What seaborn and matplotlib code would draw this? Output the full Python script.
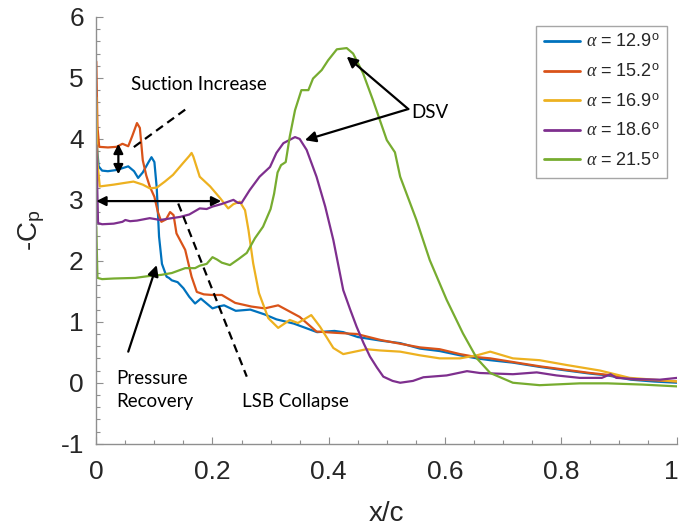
import numpy as np
import pandas as pd
import matplotlib
matplotlib.use("Agg")
import matplotlib.pyplot as plt
from matplotlib.ticker import MultipleLocator
from matplotlib.transforms import ScaledTranslation
import seaborn as sns

# Surface pressure distributions, -Cp along the chord, at five angles of attack
angles = ["12.9", "15.2", "16.9", "18.6", "21.5"]

x_129 = [0, 0.001, 0.004, 0.01, 0.02, 0.035, 0.045, 0.055, 0.065, 0.072, 0.08, 0.09, 0.095,
         0.1, 0.104, 0.108, 0.113, 0.121, 0.125, 0.13, 0.14, 0.15, 0.16, 0.17, 0.18, 0.19,
         0.2, 0.21, 0.22, 0.24, 0.265, 0.29, 0.31, 0.34, 0.38, 0.41, 0.425, 0.45, 0.49,
         0.523, 0.557, 0.591, 0.626, 0.655, 0.678, 0.717, 0.763, 0.81, 0.85, 0.88, 0.92,
         0.96, 1.0]
cp_129 = [4.55, 3.9, 3.55, 3.48, 3.47, 3.49, 3.52, 3.55, 3.47, 3.36, 3.45, 3.62, 3.70,
          3.62, 3.2, 2.4, 1.95, 1.74, 1.72, 1.68, 1.65, 1.55, 1.41, 1.30, 1.38, 1.30,
          1.22, 1.25, 1.27, 1.18, 1.20, 1.12, 1.04, 0.97, 0.83, 0.85, 0.83, 0.75, 0.69,
          0.65, 0.56, 0.52, 0.45, 0.40, 0.37, 0.33, 0.26, 0.20, 0.15, 0.12, 0.05,
          0.02, 0.0]

x_152 = [0, 0.002, 0.005, 0.02, 0.035, 0.045, 0.055, 0.062, 0.07, 0.075, 0.08, 0.086,
         0.092, 0.1, 0.106, 0.112, 0.12, 0.127, 0.133, 0.138, 0.153, 0.164, 0.173, 0.185,
         0.199, 0.216, 0.239, 0.267, 0.29, 0.313, 0.35, 0.379, 0.41, 0.448, 0.49, 0.523,
         0.557, 0.591, 0.626, 0.655, 0.678, 0.717, 0.763, 0.81, 0.85, 0.88, 0.92, 0.96, 1.0]
cp_152 = [5.27, 4.2, 3.87, 3.86, 3.87, 3.92, 3.88, 4.05, 4.26, 4.18, 3.65, 3.40,
          3.22, 3.05, 2.80, 2.64, 2.68, 2.80, 2.75, 2.45, 2.18, 1.74, 1.49, 1.45,
          1.44, 1.44, 1.31, 1.25, 1.22, 1.27, 1.08, 0.84, 0.82, 0.80, 0.70, 0.64,
          0.58, 0.55, 0.47, 0.42, 0.40, 0.34, 0.27, 0.21, 0.16, 0.13, 0.06, 0.04, 0.02]

x_169 = [0, 0.002, 0.006, 0.03, 0.05, 0.064, 0.08, 0.092, 0.104, 0.118, 0.132, 0.149,
         0.16, 0.164, 0.167, 0.178, 0.196, 0.213, 0.227, 0.236, 0.247, 0.256, 0.262,
         0.27, 0.28, 0.296, 0.313, 0.333, 0.347, 0.37, 0.385, 0.408, 0.425, 0.465,
         0.488, 0.523, 0.557, 0.591, 0.626, 0.655, 0.678, 0.717, 0.763, 0.81, 0.867,
         0.918, 0.96, 1.0]
cp_169 = [4.68, 3.6, 3.22, 3.25, 3.28, 3.30, 3.25, 3.19, 3.20, 3.30, 3.41, 3.60,
          3.72, 3.77, 3.71, 3.38, 3.22, 3.03, 2.86, 2.93, 2.97, 2.83, 2.5,
          1.96, 1.47, 1.06, 0.90, 1.03, 0.98, 1.11, 0.92, 0.57, 0.47, 0.55,
          0.53, 0.51, 0.45, 0.40, 0.40, 0.45, 0.51, 0.40, 0.37, 0.29, 0.20,
          0.08, 0.05, 0.02]

x_186 = [0, 0.003, 0.01, 0.03, 0.045, 0.05, 0.058, 0.07, 0.092, 0.11, 0.13, 0.144, 0.16,
         0.178, 0.19, 0.2, 0.215, 0.236, 0.244, 0.25, 0.264, 0.281, 0.299, 0.31, 0.322,
         0.342, 0.35, 0.362, 0.379, 0.394, 0.408, 0.425, 0.437, 0.448, 0.46, 0.471,
         0.483, 0.494, 0.51, 0.523, 0.545, 0.563, 0.603, 0.638, 0.66, 0.717, 0.758,
         0.792, 0.832, 0.87, 0.885, 0.895, 0.93, 0.97, 1.0]
cp_186 = [3.9, 2.62, 2.60, 2.61, 2.64, 2.67, 2.65, 2.66, 2.70, 2.67, 2.70, 2.72, 2.76,
          2.86, 2.85, 2.89, 2.93, 3.0, 2.95, 2.95, 3.16, 3.38, 3.54, 3.77, 3.93,
          4.03, 4.0, 3.82, 3.38, 2.89, 2.34, 1.52, 1.2, 0.92, 0.65, 0.43,
          0.25, 0.10, 0.03, 0.0, 0.03, 0.09, 0.12, 0.19, 0.16, 0.14, 0.17,
          0.12, 0.08, 0.08, 0.14, 0.08, 0.06, 0.05, 0.08]

x_215 = [0, 0.002, 0.01, 0.03, 0.067, 0.09, 0.112, 0.13, 0.153, 0.17, 0.178, 0.19, 0.2,
         0.208, 0.216, 0.23, 0.245, 0.259, 0.273, 0.287, 0.30, 0.306, 0.312, 0.318, 0.326,
         0.333, 0.342, 0.353, 0.365, 0.373, 0.388, 0.399, 0.414, 0.431, 0.442, 0.459,
         0.476, 0.5, 0.514, 0.523, 0.551, 0.574, 0.603, 0.631, 0.655, 0.678, 0.717,
         0.763, 0.832, 0.88, 0.94, 1.0]
cp_215 = [2.56, 1.72, 1.70, 1.71, 1.72, 1.75, 1.77, 1.80, 1.88, 1.88, 1.92, 1.95, 2.06,
          2.02, 1.97, 1.93, 2.03, 2.13, 2.37, 2.56, 2.85, 3.1, 3.45, 3.57, 3.62,
          4.04, 4.47, 4.80, 4.80, 4.99, 5.13, 5.29, 5.47, 5.49, 5.40, 5.08,
          4.64, 3.98, 3.78, 3.38, 2.67, 2.01, 1.36, 0.81, 0.40, 0.16, 0.0,
          -0.04, -0.01, -0.01, -0.03, -0.06]

xs = [x_129, x_152, x_169, x_186, x_215]
cps = [cp_129, cp_152, cp_169, cp_186, cp_215]
labels = [r"$\alpha$ = " + a + r"$^{\mathrm{o}}$" for a in angles]
colors = ["#0072BD", "#D95319", "#EDB120", "#7E2F8E", "#77AC30"]

x_ticks = [0, 0.2, 0.4, 0.6, 0.8, 1.0]
x_tick_labels = ["0", "0.2", "0.4", "0.6", "0.8", "1"]
y_ticks = [-1, 0, 1, 2, 3, 4, 5, 6]
y_tick_labels = ["-1", "0", "1", "2", "3", "4", "5", "6"]

frames = []
for lab, x, cp in zip(labels, xs, cps):
    frames.append(pd.DataFrame({"x/c": x, "-Cp": cp, "case": lab,
                                "order": np.arange(len(x))}))
df = pd.concat(frames, ignore_index=True)

sns.set_style("ticks")
plt.rcParams["font.family"] = ["Liberation Sans", "DejaVu Sans"]
plt.rcParams["mathtext.fontset"] = "custom"
plt.rcParams["mathtext.rm"] = "Liberation Sans"
plt.rcParams["mathtext.it"] = "Liberation Serif:italic"
plt.rcParams["mathtext.bf"] = "Liberation Sans:bold"

axis_grey = "#8f8f8f"
text_dark = "#262626"

fig = plt.figure(figsize=(6.81, 5.31), dpi=100)
ax = fig.add_axes([0.1414, 0.1644, 0.8532, 0.8036])

sns.lineplot(data=df, x="x/c", y="-Cp", hue="case", hue_order=labels,
             palette=colors, sort=False, estimator=None, units="case",
             linewidth=1.6, ax=ax, legend=True)

ax.set_xlim(0, 1)
ax.set_ylim(-1, 6)
ax.xaxis.set_minor_locator(MultipleLocator(0.05))
ax.yaxis.set_minor_locator(MultipleLocator(0.2))
ax.set_xticks(x_ticks)
ax.set_xticklabels(x_tick_labels)
ax.set_yticks(y_ticks)
ax.set_yticklabels(y_tick_labels)

for side in ("top", "right"):
    ax.spines[side].set_visible(False)
for side in ("left", "bottom"):
    ax.spines[side].set_color(axis_grey)
    ax.spines[side].set_linewidth(1.0)
ax.tick_params(which="both", direction="in", color=axis_grey, width=0.8)
ax.tick_params(which="major", length=5, labelsize=19, labelcolor=text_dark)
ax.tick_params(which="minor", length=3)
ax.tick_params(axis="x", which="major", pad=12)
ax.tick_params(axis="y", which="major", pad=9)

# keep the last x tick label inside the canvas
last = ax.get_xticklabels()[-1]
last.set_transform(last.get_transform() + ScaledTranslation(-4 / 72, 0, fig.dpi_scale_trans))

ax.set_xlabel("x/c", fontsize=20, color=text_dark, labelpad=12)
ax.set_ylabel(r"-C$_{\mathrm{p}}$", fontsize=20, color=text_dark, labelpad=10)

leg = ax.legend(loc="upper right", bbox_to_anchor=(0.983, 0.979), fontsize=13,
                frameon=True, fancybox=False, framealpha=1, edgecolor="#a6a6a6",
                handlelength=2.0, handletextpad=0.3, labelspacing=0.68,
                borderpad=0.45, borderaxespad=0)
leg.get_frame().set_linewidth(1.0)
for h in leg.get_lines():
    h.set_linewidth(2.0)

# Annotations
note_font = dict(family=["Lato", "DejaVu Sans"], fontsize=13.5, color="black")
arrow_kw = dict(arrowstyle="-|>", color="black", lw=1.6, mutation_scale=16,
                shrinkA=0, shrinkB=0)
darrow_kw = dict(arrowstyle="<|-|>", color="black", lw=1.6, mutation_scale=14,
                 shrinkA=0, shrinkB=0)

ax.text(0.177, 4.90, "Suction Increase", ha="center", va="center", **note_font)
ax.plot([0.153, 0.058], [4.48, 3.82], color="black", lw=1.6, dashes=(3.8, 2.4))
ax.annotate("", xy=(0.038, 3.92), xytext=(0.038, 3.42), arrowprops=darrow_kw)

ax.annotate("", xy=(0.0, 2.98), xytext=(0.215, 2.98), arrowprops=darrow_kw)

ax.plot([0.141, 0.259], [2.94, 0.10], color="black", lw=1.6, dashes=(3.8, 2.4))
ax.text(0.342, -0.30, "LSB Collapse", ha="center", va="center", **note_font)

ax.annotate("", xy=(0.104, 1.93), xytext=(0.055, 0.51), arrowprops=arrow_kw)
ax.text(0.034, -0.12, "Pressure\nRecovery", ha="left", va="center",
        linespacing=1.45, **note_font)

ax.text(0.574, 4.44, "DSV", ha="center", va="center", **note_font)
ax.annotate("", xy=(0.431, 5.35), xytext=(0.537, 4.49), arrowprops=arrow_kw)
ax.annotate("", xy=(0.359, 3.98), xytext=(0.537, 4.49), arrowprops=arrow_kw)

fig.savefig("out.png", dpi=100)
